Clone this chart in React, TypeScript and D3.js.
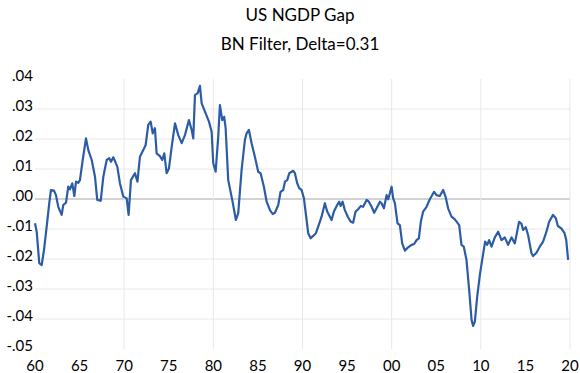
import React from "react";
import * as d3 from "d3";

const years: number[] = [
  1960.0, 1960.19, 1960.48, 1960.75, 1961.01, 1961.31, 1961.6, 1961.79, 1962.13, 1962.35,
  1962.61, 1962.99, 1963.17, 1963.48, 1963.73, 1963.92, 1964.18, 1964.41, 1964.6, 1964.85,
  1965.04, 1965.35, 1965.72, 1965.98, 1966.36, 1966.73, 1966.98, 1967.37, 1967.66, 1968.04,
  1968.33, 1968.52, 1968.78, 1969.23, 1969.53, 1969.9, 1970.28, 1970.5, 1970.76, 1971.21,
  1971.49, 1971.77, 1972.14, 1972.41, 1972.7, 1972.97, 1973.2, 1973.45, 1973.64, 1974.01,
  1974.27, 1974.5, 1974.76, 1975.02, 1975.33, 1975.7, 1976.07, 1976.45, 1976.82, 1977.26,
  1977.57, 1977.75, 1977.94, 1978.24, 1978.5, 1978.69, 1979.06, 1979.51, 1979.81, 1979.99,
  1980.26, 1980.55, 1980.74, 1981.0, 1981.22, 1981.38, 1981.67, 1982.12, 1982.53, 1982.79,
  1983.17, 1983.54, 1983.73, 1983.99, 1984.29, 1984.66, 1985.03, 1985.3, 1985.67, 1985.98,
  1986.35, 1986.65, 1986.91, 1987.28, 1987.54, 1987.84, 1988.03, 1988.29, 1988.51, 1988.96,
  1989.15, 1989.41, 1989.63, 1989.9, 1990.16, 1990.46, 1990.64, 1990.91, 1991.2, 1991.5,
  1991.76, 1992.14, 1992.51, 1992.77, 1993.26, 1993.52, 1993.89, 1994.11, 1994.27, 1994.5,
  1994.75, 1995.09, 1995.43, 1995.68, 1995.95, 1996.24, 1996.55, 1996.8, 1997.19, 1997.44,
  1997.75, 1998.04, 1998.31, 1998.68, 1998.87, 1999.13, 1999.43, 1999.61, 1999.8, 1999.99,
  2000.17, 2000.36, 2000.66, 2000.92, 2001.18, 2001.48, 2001.85, 2002.23, 2002.52, 2002.79,
  2003.05, 2003.27, 2003.53, 2003.91, 2004.28, 2004.76, 2005.03, 2005.4, 2005.77, 2006.04,
  2006.33, 2006.71, 2007.09, 2007.57, 2007.83, 2008.09, 2008.39, 2008.69, 2008.96, 2009.14,
  2009.33, 2009.59, 2009.89, 2010.15, 2010.48, 2010.71, 2010.93, 2011.2, 2011.57, 2011.94,
  2012.32, 2012.69, 2013.06, 2013.44, 2013.81, 2014.29, 2014.56, 2014.74, 2015.04, 2015.3,
  2015.68, 2015.86, 2016.24, 2016.61, 2016.98, 2017.36, 2017.66, 2018.1, 2018.41, 2018.64,
  2019.02, 2019.39, 2019.58, 2019.79,
];

const gap: number[] = [
  -0.0081, -0.0109, -0.0214, -0.022, -0.017, -0.0092, -0.0014, 0.003, 0.0028, 0.0013,
  -0.0026, -0.0053, -0.002, -0.0012, 0.0041, 0.0032, 0.0052, 0.001, 0.0058, 0.0054,
  0.0063, 0.013, 0.0202, 0.0163, 0.013, 0.0074, -0.0003, -0.0006, 0.0074, 0.013,
  0.0136, 0.0124, 0.0139, 0.0108, 0.0052, 0.0008, 0.0002, -0.0053, 0.0063, 0.0086,
  0.0058, 0.0141, 0.0163, 0.018, 0.0247, 0.0258, 0.0219, 0.0236, 0.0152, 0.0143,
  0.013, 0.0152, 0.0086, 0.0102, 0.0174, 0.0252, 0.0213, 0.0186, 0.0213, 0.0263,
  0.023, 0.0202, 0.0347, 0.0352, 0.0377, 0.0319, 0.0291, 0.0258, 0.0224, 0.0119,
  0.0091, 0.0208, 0.0313, 0.0263, 0.0274, 0.0236, 0.0063, -0.0003, -0.007, -0.0048,
  0.0097, 0.0197, 0.0219, 0.023, 0.0186, 0.0141, 0.0091, 0.0086, 0.0041, -0.0009,
  -0.0037, -0.005, -0.0046, -0.002, 0.0024, 0.003, 0.0058, 0.0063, 0.0086, 0.0094,
  0.0086, 0.0052, 0.0036, 0.003, 0.0002, -0.007, -0.0114, -0.0131, -0.0123, -0.0114,
  -0.0092, -0.0059, -0.0014, -0.0042, -0.007, -0.0042, -0.002, -0.0009, -0.0023, -0.0009,
  -0.0037, -0.006, -0.0076, -0.0079, -0.0042, -0.0034, -0.0023, -0.0026, -0.0003, -0.0009,
  -0.0026, -0.0046, -0.0031, -0.0009, -0.0014, -0.0031, 0.0013, -0.0001, 0.0019, 0.0041,
  0.0002, -0.0014, -0.0081, -0.0087, -0.0148, -0.0172, -0.0161, -0.0153, -0.015, -0.0137,
  -0.0131, -0.0076, -0.0042, -0.0026, -0.0001, 0.0024, 0.0013, 0.001, 0.003, 0.0008,
  -0.0031, -0.0059, -0.0068, -0.0087, -0.0153, -0.0159, -0.0203, -0.0303, -0.0403, -0.0423,
  -0.0409, -0.0326, -0.0253, -0.0203, -0.0142, -0.0153, -0.0137, -0.0159, -0.0128, -0.0109,
  -0.0137, -0.0128, -0.0153, -0.0128, -0.0148, -0.0076, -0.0083, -0.0103, -0.0094, -0.012,
  -0.0181, -0.019, -0.0179, -0.0159, -0.0142, -0.0109, -0.0076, -0.0053, -0.0064, -0.009,
  -0.0098, -0.0114, -0.0137, -0.0203,
];

const yTicks: number[] = [0.04, 0.03, 0.02, 0.01, 0.0, -0.01, -0.02, -0.03, -0.04, -0.05];
const yTickLabels: string[] = [".04", ".03", ".02", ".01", ".00", "-.01", "-.02", "-.03", "-.04", "-.05"];
const xTicks: number[] = [1960, 1965, 1970, 1975, 1980, 1985, 1990, 1995, 2000, 2005, 2010, 2015, 2020];
const xTickLabels: string[] = ["60", "65", "70", "75", "80", "85", "90", "95", "00", "05", "10", "15", "20"];
const xGridYears: number[] = [1970, 1980, 1990, 2000, 2010, 2020];

const W = 580;
const H = 373;
const FONT = "Lato, 'Open Sans', sans-serif";

export default function App() {
  const x = d3.scaleLinear().domain([1960, 2020]).range([35, 570]);
  const y = d3.scaleLinear().domain([-0.05, 0.04]).range([349, 79]);
  const pts = years.map((t, i) => [t, gap[i]] as [number, number]);
  const line = d3
    .line<[number, number]>()
    .x((d) => x(d[0]))
    .y((d) => y(d[1]));

  return (
    <div style={{ position: "absolute", left: 0, top: 0 }}>
      <svg width={W} height={H} style={{ display: "block", background: "#fff" }}>
        <rect x={0} y={0} width={W} height={H} fill="#fff" />
        {yTicks
          .filter((v) => v < 0.035 && v > -0.045)
          .map((v) => (
            <line
              key={"hg" + v}
              x1={x(1960)}
              x2={x(2020)}
              y1={y(v)}
              y2={y(v)}
              stroke={Math.abs(v) < 1e-9 ? "#c4c4c4" : "#e8e8e8"}
              strokeWidth={Math.abs(v) < 1e-9 ? 1.5 : 1}
            />
          ))}
        {xGridYears.map((t) => (
          <line
            key={"vg" + t}
            x1={x(t)}
            x2={x(t)}
            y1={y(0.04)}
            y2={y(-0.05)}
            stroke="#e8e8e8"
            strokeWidth={1}
          />
        ))}
        <path d={line(pts) || ""} fill="none" stroke="#2d5ca6" strokeWidth={2.2} strokeLinejoin="round" />
        {yTicks.map((v, i) => (
          <text
            key={"yl" + v}
            x={33}
            y={y(v) + 2}
            textAnchor="end"
            fontFamily={FONT}
            fontSize={15}
            fill="#000"
          >
            {yTickLabels[i]}
          </text>
        ))}
        {xTicks.map((t, i) => (
          <text
            key={"xl" + t}
            x={x(t)}
            y={371}
            textAnchor="middle"
            fontFamily={FONT}
            fontSize={15}
            fill="#000"
          >
            {xTickLabels[i]}
          </text>
        ))}
        <text x={300} y={21} textAnchor="middle" fontFamily={FONT} fontSize={17} fill="#000">
          US NGDP Gap
        </text>
        <text x={300} y={50} textAnchor="middle" fontFamily={FONT} fontSize={17} fill="#000">
          BN Filter, Delta=0.31
        </text>
      </svg>
    </div>
  );
}
